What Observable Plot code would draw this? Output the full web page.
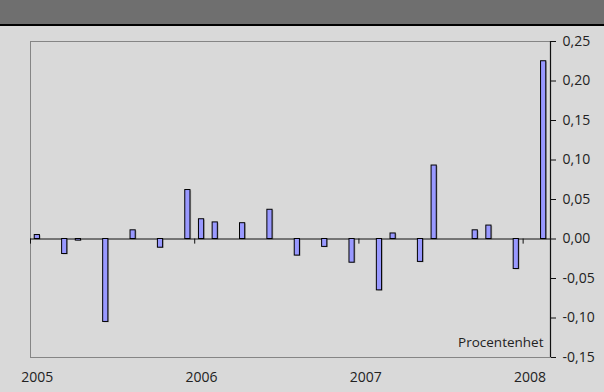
<!DOCTYPE html>
<html>
<head>
<meta charset="utf-8">
<script src="https://cdn.jsdelivr.net/npm/d3@7"></script>
<script src="https://cdn.jsdelivr.net/npm/@observablehq/plot@0.6"></script>
<style>
  html, body { margin: 0; padding: 0; background: #d9d9d9; }
  #banner { height: 24px; background: #6f6f6f; border-bottom: 2px solid #000; }
  #chart svg { display: block; background: #d9d9d9; }
</style>
</head>
<body>
<div id="banner"></div>
<div id="chart"></div>
<script>
// Monthly change, percentage points, Jan 2005 – Feb 2008 (null = no change reported)
const changes = [
  0.005, null, -0.019, -0.002, null, -0.105, null, 0.011, null, -0.011, null, 0.062,
  0.025, 0.021, null, 0.020, null, 0.037, null, -0.021, null, -0.010, null, -0.030,
  null, -0.065, 0.007, null, -0.029, 0.093, null, null, 0.011, 0.017, null, -0.038,
  null, 0.225
];
const yearLabels = ["2005", "2006", "2007", "2008"];
const yTicks = [-0.15, -0.10, -0.05, 0, 0.05, 0.10, 0.15, 0.20, 0.25];
const unitLabel = "Procentenhet";

const bars = changes
  .map((v, i) => ({month: i, value: v}))
  .filter(d => d.value !== null);
const years = yearLabels.map((label, k) => ({label, start: k * 12}));

const half = 0.19; // half bar width, in months
const fmt = v => d3.format(".2f")(v).replace(".", ",").replace("−", "-");

const chart = Plot.plot({
  width: 604,
  height: 366,
  marginLeft: 30,
  marginRight: 54,
  marginTop: 15,
  marginBottom: 35,
  style: {fontFamily: "'Open Sans', sans-serif", fontSize: "14px", color: "#222", background: "#d9d9d9"},
  x: {type: "linear", domain: [0, changes.length], axis: null},
  y: {domain: [-0.15, 0.25]},
  marks: [
    Plot.frame({stroke: "#858585", strokeWidth: 1}),
    // bar shadows
    Plot.rectY(bars, {x1: d => d.month + 0.5 - half, x2: d => d.month + 0.5 + half, y1: 0, y2: "value",
      fill: "#7a7a7a", dx: 1.2, dy: 0.8, fillOpacity: 0.55}),
    Plot.ruleY([0], {stroke: "#111", strokeWidth: 1}),
    Plot.rectY(bars, {x1: d => d.month + 0.5 - half, x2: d => d.month + 0.5 + half, y1: 0, y2: "value",
      fill: "#9999ff", stroke: "#000", strokeWidth: 1}),
    // year boundary ticks below the zero line
    Plot.ruleX(years, {x: "start", y1: 0, y2: -0.0065, stroke: "#111", strokeWidth: 1}),
    // year labels under January
    Plot.text(years, {x: d => d.start + 0.5, y: -0.15, text: "label", dy: 20, fill: "#222", fontSize: 14}),
    // right value axis
    Plot.ruleX([changes.length], {stroke: "#111", strokeWidth: 1.2}),
    Plot.axisY({anchor: "right", ticks: yTicks, tickFormat: fmt, tickSize: 5, tickPadding: 7,
      fontSize: 14, fill: "#222", stroke: "#111", label: null}),
    Plot.text([unitLabel], {x: changes.length, y: -0.15, text: d => d, textAnchor: "end", dx: -7, dy: -15, fill: "#222", fontSize: 13.5})
  ]
});

document.getElementById("chart").append(chart);
</script>
</body>
</html>
